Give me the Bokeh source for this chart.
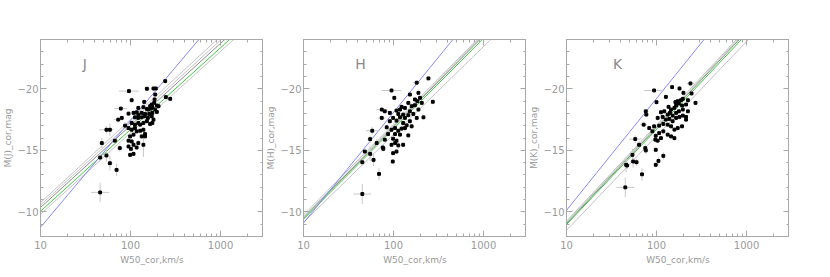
import numpy as np
from bokeh.plotting import figure
from bokeh.layouts import row
from bokeh.models import (Range1d, LogAxis, LinearAxis, SingleIntervalTicker, LogTicker,
                          Label, NumeralTickFormatter)
from bokeh.embed import file_html
from bokeh.resources import INLINE

# ---------------- data ----------------
X_TICKS = [10, 100, 1000]
Y_TICKS = [-10, -15, -20]

J_W50 = [243, 96, 152, 180, 191, 103, 188, 185, 247, 276,
         142, 183, 172, 165, 175, 196, 205, 78, 122, 139,
         152, 158, 169, 188, 95, 108, 117, 122, 133, 145,
         161, 175, 196, 73, 80, 112, 122, 133, 143, 156,
         172, 180, 87, 103, 112, 122, 128, 139, 152, 165,
         175, 54, 59, 95, 103, 112, 117, 128, 139, 145,
         99, 108, 133, 145, 48, 67, 95, 103, 108, 122,
         76, 95, 101, 117, 139, 54, 99, 108, 46, 59,
         70, 46]
J_M = [-20.62, -19.81, -20.00, -20.02, -20.02, -19.07, -19.53, -19.13, -19.32, -19.18,
       -18.93, -18.85, -18.72, -18.58, -18.50, -18.64, -18.58, -18.39, -18.44, -18.50,
       -18.36, -18.31, -18.39, -18.31, -17.98, -18.04, -18.09, -17.90, -18.04, -17.95,
       -17.95, -18.04, -18.12, -17.49, -17.63, -17.68, -17.63, -17.68, -17.76, -17.63,
       -17.76, -17.49, -17.00, -17.22, -17.08, -17.22, -17.08, -17.22, -17.36, -17.14,
       -17.22, -16.67, -16.67, -16.81, -16.67, -16.81, -16.54, -16.59, -16.67, -16.32,
       -16.13, -16.27, -16.13, -16.13, -15.59, -15.78, -15.78, -15.72, -15.45, -15.59,
       -15.18, -15.31, -15.12, -15.23, -15.45, -14.58, -14.63, -14.71, -14.41, -13.95,
       -13.41, -11.58]
J_eW = [0.02, 0.11, 0.03, 0.03, 0.02, 0.02, 0.02, 0.02, 0.04, 0.02,
        0.02, 0.02, 0.02, 0.02, 0.02, 0.02, 0.02, 0.07, 0.02, 0.02,
        0.02, 0.02, 0.02, 0.02, 0.02, 0.02, 0.02, 0.02, 0.02, 0.02,
        0.02, 0.02, 0.02, 0.05, 0.02, 0.02, 0.02, 0.02, 0.02, 0.02,
        0.02, 0.02, 0.02, 0.02, 0.02, 0.02, 0.02, 0.02, 0.02, 0.02,
        0.02, 0.08, 0.03, 0.02, 0.02, 0.02, 0.02, 0.02, 0.02, 0.02,
        0.02, 0.02, 0.02, 0.02, 0.03, 0.04, 0.02, 0.02, 0.02, 0.02,
        0.03, 0.02, 0.02, 0.02, 0.02, 0.03, 0.02, 0.02, 0.03, 0.03,
        0.03, 0.10]
J_eM = [0.2, 0.2, 0.2, 0.2, 0.2, 0.2, 0.2, 0.2, 0.2, 0.2,
        0.2, 0.2, 0.2, 0.2, 0.2, 0.2, 0.2, 0.2, 0.2, 0.2,
        0.2, 0.2, 0.2, 0.2, 0.2, 0.2, 0.2, 0.2, 0.2, 0.2,
        0.2, 0.2, 0.2, 0.2, 0.2, 0.2, 0.2, 0.2, 0.2, 0.2,
        0.2, 0.2, 0.3, 0.2, 0.2, 0.2, 0.2, 0.2, 0.2, 0.2,
        0.2, 0.3, 0.5, 0.2, 0.2, 0.2, 0.2, 0.2, 0.2, 0.2,
        0.2, 0.2, 0.2, 0.2, 0.4, 0.2, 0.2, 0.2, 0.2, 0.2,
        0.3, 0.2, 0.2, 0.2, 1.0, 0.5, 0.2, 0.2, 0.3, 0.6,
        0.5, 0.8]

H_W50 = [244, 181, 95, 102, 152, 189, 197, 173, 184, 206,
         273, 146, 159, 173, 123, 118, 134, 152, 189, 74,
         80, 108, 91, 113, 128, 146, 166, 215, 74, 99,
         118, 134, 152, 181, 140, 159, 91, 108, 128, 84,
         95, 104, 113, 123, 134, 58, 87, 104, 118, 146,
         55, 80, 99, 108, 65, 95, 104, 113, 128, 76,
         77, 48, 55, 99, 108, 45, 60, 98, 69, 45]
H_M = [-20.84, -20.49, -19.86, -19.26, -19.53, -19.67, -19.26, -19.13, -18.99, -18.85,
       -18.94, -18.85, -18.58, -18.66, -18.53, -18.31, -18.44, -18.17, -18.31, -18.31,
       -18.17, -18.23, -18.04, -17.95, -17.90, -17.85, -17.95, -17.68, -17.63, -17.63,
       -17.68, -17.63, -17.36, -17.63, -17.03, -16.95, -17.36, -17.41, -17.22, -16.87,
       -16.67, -16.81, -16.59, -16.76, -16.81, -16.59, -16.32, -16.32, -16.27, -16.21,
       -15.91, -15.86, -15.94, -15.78, -15.59, -15.45, -15.59, -15.40, -15.45, -15.23,
       -15.12, -14.90, -14.71, -14.77, -14.90, -14.03, -14.22, -14.09, -13.08, -11.45]
H_eW = [0.03, 0.04, 0.11, 0.02, 0.02, 0.02, 0.02, 0.02, 0.02, 0.02,
        0.02, 0.02, 0.02, 0.02, 0.02, 0.02, 0.02, 0.02, 0.02, 0.06,
        0.04, 0.02, 0.02, 0.02, 0.02, 0.02, 0.02, 0.02, 0.04, 0.02,
        0.02, 0.02, 0.02, 0.02, 0.02, 0.02, 0.03, 0.02, 0.02, 0.02,
        0.02, 0.02, 0.02, 0.02, 0.02, 0.07, 0.02, 0.02, 0.02, 0.02,
        0.03, 0.02, 0.02, 0.02, 0.03, 0.02, 0.02, 0.02, 0.02, 0.03,
        0.02, 0.03, 0.03, 0.02, 0.02, 0.03, 0.03, 0.02, 0.02, 0.10]
H_eM = [0.2, 0.2, 0.2, 0.2, 0.2, 0.2, 0.2, 0.2, 0.2, 0.2,
        0.2, 0.2, 0.2, 0.2, 0.2, 0.2, 0.2, 0.2, 0.2, 0.2,
        0.2, 0.2, 0.2, 0.2, 0.2, 0.2, 0.2, 0.2, 0.2, 0.2,
        0.2, 0.2, 0.2, 0.2, 0.2, 0.2, 0.2, 0.2, 0.2, 0.2,
        0.2, 0.2, 0.2, 0.2, 0.3, 0.3, 0.2, 0.2, 0.2, 0.2,
        0.3, 0.2, 0.2, 0.2, 0.3, 0.2, 0.2, 0.3, 0.2, 0.2,
        0.2, 0.3, 0.6, 0.2, 0.2, 0.3, 0.5, 0.2, 0.5, 0.8]

K_W50 = [238, 94, 149, 180, 199, 245, 100, 127, 162, 172,
         187, 196, 223, 271, 76, 77, 136, 145, 158, 165,
         177, 192, 213, 112, 122, 133, 141, 151, 165, 177,
         196, 223, 103, 117, 127, 139, 151, 165, 180, 196,
         213, 72, 83, 94, 107, 119, 133, 145, 158, 172,
         192, 213, 90, 98, 107, 119, 133, 145, 158, 58,
         64, 97, 103, 112, 75, 76, 98, 119, 54, 46,
         47, 55, 60, 98, 105, 69, 45]
K_M = [-20.43, -19.86, -20.13, -20.02, -19.67, -19.62, -18.91, -19.34, -18.91, -18.99,
       -19.07, -19.18, -19.07, -18.85, -18.17, -17.90, -18.53, -18.31, -18.45, -18.64,
       -18.80, -18.64, -18.72, -18.09, -18.17, -17.90, -18.04, -17.82, -18.04, -18.17,
       -18.31, -18.17, -17.63, -17.71, -17.49, -17.55, -17.36, -17.63, -17.71, -17.82,
       -17.71, -17.08, -16.81, -16.95, -17.00, -17.14, -17.08, -16.95, -16.68, -16.81,
       -16.95, -17.49, -16.54, -16.18, -16.40, -16.54, -16.27, -16.13, -15.99, -15.91,
       -15.45, -15.86, -15.78, -15.99, -15.18, -14.99, -15.04, -14.55, -14.63, -13.82,
       -13.76, -14.09, -14.03, -13.82, -14.14, -13.05, -11.99]
K_eW = [0.04, 0.11, 0.02, 0.02, 0.02, 0.02, 0.02, 0.02, 0.02, 0.02,
        0.02, 0.02, 0.02, 0.02, 0.03, 0.03, 0.02, 0.02, 0.02, 0.02,
        0.02, 0.02, 0.02, 0.02, 0.02, 0.02, 0.02, 0.02, 0.02, 0.02,
        0.02, 0.02, 0.02, 0.02, 0.02, 0.02, 0.02, 0.02, 0.02, 0.02,
        0.02, 0.04, 0.02, 0.02, 0.02, 0.02, 0.02, 0.02, 0.02, 0.02,
        0.02, 0.02, 0.02, 0.02, 0.02, 0.02, 0.02, 0.02, 0.02, 0.07,
        0.03, 0.02, 0.02, 0.02, 0.03, 0.03, 0.02, 0.02, 0.03, 0.03,
        0.03, 0.03, 0.03, 0.02, 0.02, 0.02, 0.10]
K_eM = [0.2, 0.2, 0.2, 0.2, 0.2, 0.2, 0.2, 0.2, 0.2, 0.2,
        0.2, 0.2, 0.2, 0.2, 0.2, 0.2, 0.2, 0.2, 0.2, 0.2,
        0.2, 0.2, 0.2, 0.2, 0.2, 0.2, 0.2, 0.2, 0.2, 0.2,
        0.2, 0.2, 0.2, 0.2, 0.2, 0.2, 0.2, 0.2, 0.2, 0.2,
        0.2, 0.2, 0.2, 0.2, 0.2, 0.2, 0.2, 0.2, 0.2, 0.2,
        0.2, 0.2, 0.2, 0.2, 0.2, 0.2, 0.2, 0.2, 0.2, 0.3,
        0.3, 0.2, 0.2, 0.2, 0.3, 0.3, 0.2, 0.3, 0.5, 0.6,
        0.3, 0.5, 0.3, 0.2, 0.3, 0.5, 0.8]

# fit lines: magnitude at W50 = 10 km/s and slope per dex
LINE_KIND = ["gray", "gray", "gray", "black", "green", "blue"]
J_LINE_M10 = [-10.75, -10.55, -9.80, -10.35, -10.05, -8.75]
J_LINE_SLOPE = [-6.75, -6.70, -6.62, -6.67, -6.64, -8.67]
H_LINE_M10 = [-9.75, -9.60, -9.15, -9.50, -9.40, -9.10]
H_LINE_SLOPE = [-7.38, -7.40, -7.14, -7.40, -7.35, -8.98]
K_LINE_M10 = [-9.25, -9.15, -8.50, -9.05, -8.97, -10.13]
K_LINE_SLOPE = [-7.81, -7.80, -7.67, -7.79, -7.73, -9.08]

BANDS = ["J", "H", "K"]
# ----------------------------------------------------------------

LINE_STYLE = {"gray": ("#b4b4b4", 0.8), "black": ("#6e6e6e", 0.8),
              "green": ("#3ccc3c", 1.0), "blue": ("#7a7aff", 0.9)}
AX_COLOR = "#a8a8a8"
TXT_COLOR = "#9a9a9a"
FONT = "DejaVu Sans"


def style_axis(ax, labels=True):
    ax.axis_line_color = AX_COLOR
    ax.major_tick_line_color = AX_COLOR
    ax.minor_tick_line_color = AX_COLOR
    ax.major_tick_in = 6
    ax.major_tick_out = 0
    ax.minor_tick_in = 3
    ax.minor_tick_out = 0
    ax.major_label_text_color = TXT_COLOR
    ax.major_label_text_font = FONT
    ax.axis_label_text_color = TXT_COLOR
    ax.axis_label_text_font = FONT
    ax.axis_label_text_font_size = "9px"
    ax.axis_label_text_font_style = "normal"
    if labels:
        ax.major_label_text_font_size = "10px"
        ax.major_label_standoff = 2
        ax.axis_label_standoff = 1
    else:
        ax.major_label_text_font_size = "1px"
        ax.major_label_text_alpha = 0
        ax.major_label_standoff = 0
        ax.axis_label_standoff = 0


def panel(band, W, M, eW, eM, m10, slope, letter_w):
    p = figure(frame_width=223, frame_height=197, x_axis_type="log",
               x_range=Range1d(10, 3000), y_range=Range1d(-8, -24),
               output_backend="svg", toolbar_location=None,
               min_border_left=32, min_border_right=0,
               min_border_top=39, min_border_bottom=28)
    p.grid.visible = False
    p.outline_line_color = AX_COLOR
    p.background_fill_color = "white"
    p.border_fill_color = "white"

    p.xaxis.ticker = LogTicker(num_minor_ticks=10)
    p.xaxis.formatter = NumeralTickFormatter(format="0")
    p.yaxis.ticker = SingleIntervalTicker(interval=5, num_minor_ticks=5)
    p.yaxis.major_label_overrides = {t: "\u2212" + str(abs(t)) for t in Y_TICKS}
    p.xaxis.axis_label = "W50_cor,km/s"
    p.yaxis.axis_label = "M(" + band + ")_cor,mag"
    style_axis(p.xaxis[0])
    style_axis(p.yaxis[0])
    p.xaxis.major_label_standoff = 4
    p.xaxis.axis_label_standoff = 3

    top = LogAxis(ticker=LogTicker(num_minor_ticks=10))
    style_axis(top, labels=False)
    p.add_layout(top, "above")
    right = LinearAxis(ticker=SingleIntervalTicker(interval=5, num_minor_ticks=5))
    style_axis(right, labels=False)
    p.add_layout(right, "right")

    # fit lines
    lx = np.array([10.0, 3000.0])
    order = sorted(range(len(LINE_KIND)),
                   key=lambda i: ["gray", "black", "green", "blue"].index(LINE_KIND[i]))
    for i in order:
        col, lw = LINE_STYLE[LINE_KIND[i]]
        ly = m10[i] + slope[i] * (np.log10(lx) - 1.0)
        p.line(lx, ly, line_color=col, line_width=lw)

    W = np.array(W, dtype=float)
    M = np.array(M, dtype=float)
    eW = np.array(eW, dtype=float)
    eM = np.array(eM, dtype=float)
    assert len(W) == len(M) == len(eW) == len(eM)
    p.segment(x0=W * 10 ** (-eW), x1=W * 10 ** eW, y0=M, y1=M,
              line_color="#c8c8c8", line_width=1)
    p.segment(x0=W, x1=W, y0=M - eM, y1=M + eM,
              line_color="#c8c8c8", line_width=1)
    p.scatter(W, M, marker="square", size=2.8, color="black")

    p.add_layout(Label(x=letter_w, y=-22.0, text=band, text_align="center",
                       text_baseline="middle", text_color="#8a8a8a",
                       text_font=FONT, text_font_size="14px"))
    return p


p1 = panel("J", J_W50, J_M, J_eW, J_eM, J_LINE_M10, J_LINE_SLOPE, 31)
p2 = panel("H", H_W50, H_M, H_eW, H_eM, H_LINE_M10, H_LINE_SLOPE, 43)
p3 = panel("K", K_W50, K_M, K_eW, K_eM, K_LINE_M10, K_LINE_SLOPE, 37)

layout = row(p1, p2, p3, spacing=0)
open("out.html", "w").write(file_html(layout, INLINE))
